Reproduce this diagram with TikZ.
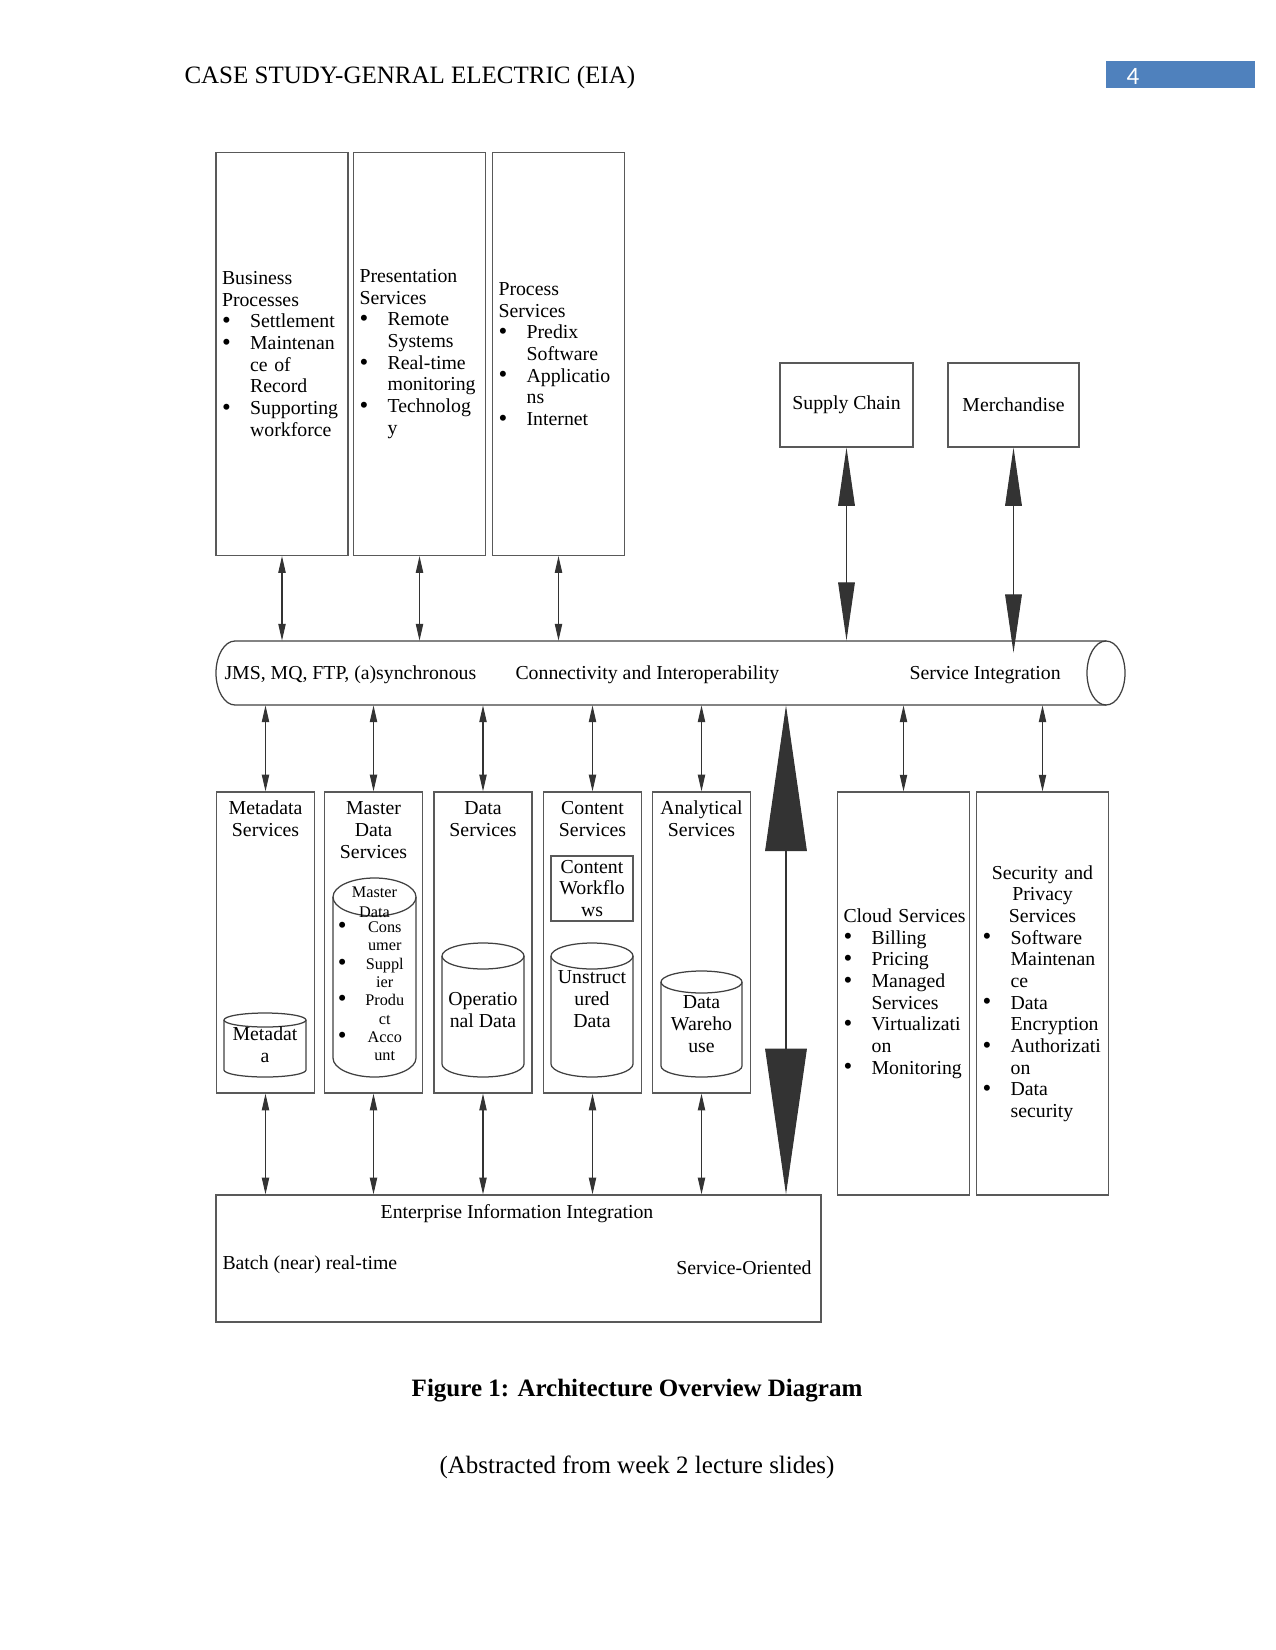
\documentclass[tikz,border=0pt]{standalone}
\usepackage{fontspec}
\setmainfont{Liberation Serif}
\newfontfamily\numfont{Carlito}
\usetikzlibrary{arrows.meta}
\definecolor{pagebar}{HTML}{4F81BD}
\newcommand\bigdot{\raisebox{-0.4pt}[0pt][0pt]{\fontsize{12}{12}\selectfont\textbullet}}
\newcommand\bul{\makebox[13.5pt][l]{\bigdot}}
\newcommand\cont{\makebox[13.5pt]{}}
\newcommand\dbdrum[5]{%
  \draw[drum] (#1,#2) ellipse [x radius=#4, y radius=#5];
  \draw[drum] (#1-#4,#2) -- (#1-#4,#3) arc[start angle=180, end angle=0, x radius=#4, y radius=#5] -- (#1+#4,#2);
}

\begin{document}
\begin{tikzpicture}[x=0.48pt, y=-0.48pt,
    every node/.style={font=\fontsize{9.5}{10.4}\selectfont, inner sep=1pt},
    box/.style={rectangle, draw=black!65, line width=0.6pt, inner xsep=2.9pt, align=left},
    tall/.style={box, minimum width=63.4pt, minimum height=193.4pt, text width=57.6pt},
    low/.style={box, minimum width=47pt, minimum height=144.5pt},
    drum/.style={draw=black!75, line width=0.6pt},
    lk/.style={{Triangle[length=8pt,width=3.5pt]}-{Triangle[length=8pt,width=3.5pt]}, line width=0.5pt, black!80},
    fat/.style={{Triangle[length=28pt,width=8pt]}-{Triangle[length=28pt,width=8pt]}, line width=0.5pt, black!80},
    bigtip/.style={{Triangle[length=70pt,width=20pt]}-{Triangle[length=70pt,width=20pt]}, line width=0.5pt, black!80}]
    \useasboundingbox (0,0) rectangle (1275,1650);

    \node[anchor=west, font=\fontsize{12}{14}\selectfont] (title) at (182,77) {CASE STUDY-GENRAL ELECTRIC (EIA)};
    \node[fill=pagebar, minimum width=71.5pt, minimum height=13pt, inner sep=0pt] (pagebox) at (1180.5,74.5) {};
    \node[anchor=west, text=white, font=\numfont\fontsize{12}{14}\selectfont] (pagenum) at (1124,76) {4};

    \node[tall] (bp) at (282,354) {Business\\Processes\\\bul Settlement\\\bul Maintenan\\\cont ce of\\\cont Record\\\bul Supporting\\\cont workforce};
    \node[tall] (ps) at (419.5,354) {Presentation\\Services\\\bul Remote\\\cont Systems\\\bul Real-time\\\cont monitoring\\\bul Technolog\\\cont y};
    \node[tall] (prs) at (558.5,354) {Process\\Services\\\bul Predix\\\cont Software\\\bul Applicatio\\\cont ns\\\bul Internet};
    \node[box, minimum width=63.8pt, minimum height=40.3pt, align=center] (supply) at (846.5,405) {Supply Chain};
    \node[box, minimum width=62.9pt, minimum height=40.3pt, align=center] (merch) at (1013.5,405) {Merchandise};

    \node[minimum width=436.3pt, minimum height=30.7pt] (pipe) at (670.5,673) {};
    \draw[drum] (1106,641) -- (235,641) arc[start angle=270, end angle=90, x radius=19, y radius=32] -- (1106,705);
    \draw[drum] (1106,673) ellipse [x radius=19, y radius=32];
    \node[anchor=west] (jms) at (222,675) {JMS, MQ, FTP, (a)synchronous};
    \node[anchor=west] (conn) at (513,675) {Connectivity and Interoperability};
    \node[anchor=west] (svc) at (907,675) {Service Integration};

    \draw[lk] (bp.south) -- (bp.south |- pipe.north);
    \draw[lk] (ps.south) -- (ps.south |- pipe.north);
    \draw[lk] (prs.south) -- (prs.south |- pipe.north);
    \draw[fat] (supply.south) -- (supply.south |- pipe.north);
    \draw[fat] (merch.south) -- ([yshift=-5.8pt]merch.south |- pipe.north);

    \node[low] (meta) at (265.5,942.5) {};
    \node[low] (mdm) at (373.5,942.5) {};
    \node[low] (ods) at (483,942.5) {};
    \node[low] (cms) at (592.5,942.5) {};
    \node[low] (ana) at (701.5,942.5) {};
    \node[align=center] (metat) at (265.5,819) {Metadata\\Services};
    \node[align=center] (mdmt) at (373.5,830) {Master\\Data\\Services};
    \node[align=center] (odst) at (483,819) {Data\\Services};
    \node[align=center] (cmst) at (592.5,819) {Content\\Services};
    \node[align=center] (anat) at (701.5,819) {Analytical\\Services};

    \dbdrum{265}{1020}{1070}{41}{7}
    \dbdrum{374.5}{897}{1058}{41.5}{19}
    \dbdrum{483}{956}{1064}{41}{13}
    \dbdrum{592}{956}{1064}{41}{13}
    \dbdrum{701.5}{982}{1066}{40.5}{11}
    \node[align=center] (metad) at (265,1045) {Metadat\\a};
    \node[align=center, font=\fontsize{7.8}{9.6}\selectfont] (mdmd) at (374.5,902) {Master\\Data};
    \node[font=\fontsize{7.8}{8.8}\selectfont] (mdml) at (371,993) {\begin{tabular}{@{}l@{\hspace{9pt}}c@{}}
        \bigdot & Cons\\ & umer\\ \bigdot & Suppl\\ & ier\\
        \bigdot & Produ\\ & ct\\ \bigdot & Acco\\ & unt\end{tabular}};
    \node[align=center] (odsd) at (483,1010) {Operatio\\nal Data};
    \node[box, minimum width=39.4pt, minimum height=31.2pt, align=center, inner xsep=1pt] (flow) at (592,888.5) {Content\\Workflo\\ws};
    \node[align=center] (unst) at (592,999) {Unstruct\\ured\\Data};
    \node[align=center] (dwh) at (701.5,1024) {Data\\Wareho\\use};

    \node[tall] (cloud) at (903.5,993.5) {\mbox{Cloud Services}\\\bul Billing\\\bul Pricing\\\bul Managed\\\cont Services\\\bul Virtualizati\\\cont on\\\bul Monitoring};
    \node[tall] (sec) at (1042.5,993.5) {\makebox[57.6pt]{Security and}\\\makebox[57.6pt]{Privacy}\\\makebox[57.6pt]{Services}\\\bul Software\\\cont Maintenan\\\cont ce\\\bul Data\\\cont Encryption\\\bul Authorizati\\\cont on\\\bul Data\\\cont security};

    \node[box, minimum width=290.4pt, minimum height=61pt] (eii) at (518.5,1258.5) {};
    \node (eiit) at (517,1214) {Enterprise Information Integration};
    \node[anchor=west] (batch) at (220,1265) {Batch (near) real-time};
    \node[anchor=east] (soa) at (814,1268) {Service-Oriented};

    \draw[lk] (meta.north |- pipe.south) -- (meta.north);
    \draw[lk] (mdm.north |- pipe.south) -- (mdm.north);
    \draw[lk] (ods.north |- pipe.south) -- (ods.north);
    \draw[lk] (cms.north |- pipe.south) -- (cms.north);
    \draw[lk] (ana.north |- pipe.south) -- (ana.north);
    \draw[lk] (cloud.north |- pipe.south) -- (cloud.north);
    \draw[lk] (sec.north |- pipe.south) -- (sec.north);
    \draw[lk] (meta.south) -- (meta.south |- eii.north);
    \draw[lk] (mdm.south) -- (mdm.south |- eii.north);
    \draw[lk] (ods.south) -- (ods.south |- eii.north);
    \draw[lk] (cms.south) -- (cms.south |- eii.north);
    \draw[lk] (ana.south) -- (ana.south |- eii.north);
    \coordinate (spine) at (786,0);
    \draw[bigtip] (spine |- pipe.south) -- (spine |- eii.north);

    \node[font=\bfseries\fontsize{12}{14}\selectfont] (cap) at (637,1391) {Figure 1: Architecture Overview Diagram};
    \node[font=\fontsize{12}{14}\selectfont] (src) at (637,1467) {(Abstracted from week 2 lecture slides)};
\end{tikzpicture}
\end{document}
